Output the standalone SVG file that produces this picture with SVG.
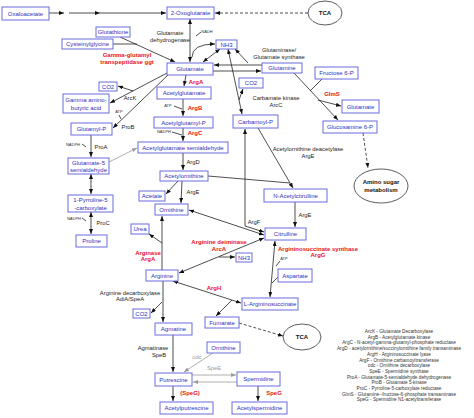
<svg xmlns="http://www.w3.org/2000/svg" width="474" height="418" viewBox="0 0 474 418">
<style>
.b{fill:#fff;stroke:#6b6be0;stroke-width:1}
.e{fill:#fff;stroke:#333;stroke-width:0.8}
text{font-family:"Liberation Sans",Arial,sans-serif;text-anchor:middle}
.t{font-size:6px;fill:#3030c0}
.l{font-size:5.8px;fill:#222}
.r{font-size:6px;fill:#e8141b;font-weight:bold}
.s{font-size:4px;fill:#333}
.k{font-size:6px;fill:#111;font-weight:bold}
.gy{font-size:5.8px;fill:#999}
.lg{font-size:4.7px;fill:#333}
.c line,.c path,.c polyline{stroke:#222;stroke-width:0.8;fill:none}
.c .g{stroke:#999}
.c .d{stroke-dasharray:3,2}
</style>
<defs>
<marker id="a" viewBox="0 0 10 8" refX="10" refY="4" markerWidth="5" markerHeight="4" markerUnits="userSpaceOnUse" orient="auto-start-reverse"><path d="M0,0L10,4L0,8z" fill="#111"/></marker>
<marker id="ag" viewBox="0 0 10 8" refX="10" refY="4" markerWidth="5" markerHeight="4" markerUnits="userSpaceOnUse" orient="auto-start-reverse"><path d="M0,0L10,4L0,8z" fill="#999"/></marker>
</defs>
<rect width="474" height="418" fill="#fff"/>

<g id="connectors" class="c">
<line x1="49" y1="13" x2="64" y2="13" marker-end="url(#a)"/>
<line x1="69" y1="13" x2="100" y2="13" marker-end="url(#a)"/>
<line x1="100" y1="13" x2="166" y2="13" marker-end="url(#a)"/>
<line class="d" x1="308" y1="13" x2="215" y2="13" marker-end="url(#a)"/>
<line x1="190" y1="19" x2="190" y2="62" marker-start="url(#a)" marker-end="url(#a)"/>
<path d="M196,36 L201,32"/>
<path d="M192,57 Q192,44 215,44" marker-end="url(#a)"/>
<line x1="203" y1="62" x2="220" y2="49" marker-start="url(#a)" marker-end="url(#a)"/>
<line x1="248" y1="63" x2="235" y2="49" marker-end="url(#a)"/>
<line x1="262" y1="65" x2="214" y2="65" marker-end="url(#a)"/>
<line x1="213" y1="71" x2="261" y2="71" marker-end="url(#a)"/>
<line x1="120" y1="37" x2="175" y2="62" marker-end="url(#a)"/>
<line x1="113" y1="44" x2="137" y2="44"/>
<line x1="167" y1="73" x2="110" y2="103" marker-end="url(#a)"/>
<line x1="133" y1="91" x2="118" y2="86" marker-end="url(#a)"/>
<line x1="168" y1="75" x2="113" y2="128" marker-end="url(#a)"/>
<path d="M119,115 L121,119"/>
<line x1="186" y1="75" x2="184" y2="86" marker-end="url(#a)"/>
<line x1="183" y1="99" x2="183" y2="116" marker-end="url(#a)"/>
<path d="M174,106 L182,109"/>
<line x1="183" y1="128" x2="183" y2="141" marker-end="url(#a)"/>
<path d="M172,132 L182,135"/>
<line x1="183" y1="153" x2="183" y2="170" marker-end="url(#a)"/>
<line x1="178" y1="181" x2="166" y2="194" marker-end="url(#a)"/>
<line x1="182" y1="181" x2="181" y2="203" marker-end="url(#a)"/>
<line x1="208" y1="176" x2="290" y2="183"/>
<line x1="258" y1="128" x2="293" y2="188" marker-end="url(#a)"/>
<line x1="295" y1="202" x2="295" y2="227" marker-end="url(#a)"/>
<line x1="245" y1="226" x2="245" y2="129" marker-end="url(#a)"/>
<line x1="245" y1="226" x2="264" y2="232" marker-end="url(#a)"/>
<line x1="189" y1="210" x2="264" y2="235" marker-start="url(#a)" marker-end="url(#a)"/>
<line x1="179" y1="273" x2="264" y2="238" marker-start="url(#a)" marker-end="url(#a)"/>
<line x1="219" y1="257" x2="235" y2="257" marker-end="url(#a)"/>
<line x1="162" y1="270" x2="162" y2="216" marker-end="url(#a)"/>
<line x1="162" y1="243" x2="149" y2="234" marker-end="url(#a)"/>
<line x1="163" y1="281" x2="163" y2="322" marker-end="url(#a)"/>
<line x1="162" y1="302" x2="151" y2="313" marker-end="url(#a)"/>
<line x1="173" y1="281" x2="241" y2="303" marker-start="url(#a)" marker-end="url(#a)"/>
<line x1="232" y1="300" x2="216" y2="316" marker-end="url(#a)"/>
<line x1="275" y1="241" x2="270" y2="297" marker-start="url(#a)" marker-end="url(#a)"/>
<line x1="278" y1="277" x2="272" y2="283"/>
<path d="M280,261 L276,266"/>
<line class="d" x1="239" y1="323" x2="283" y2="336" marker-end="url(#a)"/>
<line x1="173" y1="335" x2="173" y2="372" marker-end="url(#a)"/>
<line class="g" x1="213" y1="353" x2="184" y2="372" marker-end="url(#ag)"/>
<line class="g" x1="192" y1="375" x2="236" y2="375" marker-end="url(#ag)"/>
<line class="g" x1="237" y1="382" x2="193" y2="382" marker-end="url(#ag)"/>
<line x1="173" y1="386" x2="173" y2="401" marker-end="url(#a)"/>
<line x1="258" y1="386" x2="258" y2="401" marker-end="url(#a)"/>
<line x1="91" y1="135" x2="91" y2="157" marker-end="url(#a)"/>
<path d="M82,144 L86,147"/>
<line x1="91" y1="174" x2="91" y2="194" marker-start="url(#a)" marker-end="url(#a)"/>
<line x1="91" y1="212" x2="91" y2="234" marker-start="url(#a)" marker-end="url(#a)"/>
<path d="M82,218 L86,221"/>
<line class="g" x1="109" y1="162" x2="137" y2="148" marker-end="url(#ag)"/>
<line x1="228" y1="49" x2="242" y2="114" marker-start="url(#a)" marker-end="url(#a)"/>
<line x1="239" y1="100" x2="243" y2="89" marker-end="url(#a)"/>
<line x1="294" y1="73" x2="338" y2="120" marker-end="url(#a)"/>
<line x1="322" y1="79" x2="310" y2="91"/>
<line x1="318" y1="100" x2="341" y2="106" marker-end="url(#a)"/>
<line class="d" x1="363" y1="133" x2="368" y2="168" marker-end="url(#a)"/>
</g>

<g id="oxaloacetate"><rect class="b" x="2" y="7" width="47" height="13"/><text class="t" x="25.5" y="15.5">Oxaloacetate</text></g>
<g id="oxoglutarate"><rect class="b" x="167" y="7" width="47" height="12"/><text class="t" x="190.5" y="15">2-Oxoglutarate</text></g>
<g id="tca1"><ellipse class="e" cx="325" cy="13" rx="17" ry="12"/><text class="k" x="325" y="15">TCA</text></g>
<g id="glutathione"><rect class="b" x="96" y="27" width="34" height="10"/><text class="t" x="113" y="34">Glutathione</text></g>
<g id="cysteinylglycine"><rect class="b" x="62" y="39" width="51" height="10"/><text class="t" x="87.5" y="46">Cysteinylglycine</text></g>
<g id="nh3a"><rect class="b" x="216" y="40" width="21" height="9"/><text class="t" x="226.5" y="46.5">NH3</text></g>
<g id="glutamate"><rect class="b" x="167" y="63" width="46" height="12"/><text class="t" x="190" y="71">Glutamate</text></g>
<g id="glutamine"><rect class="b" x="262" y="63" width="40" height="10"/><text class="t" x="282" y="70">Glutamine</text></g>
<g id="fructose6p"><rect class="b" x="315" y="67" width="43" height="12"/><text class="t" x="336.5" y="75">Fructose 6-P</text></g>
<g id="co2a"><rect class="b" x="99" y="82" width="18" height="9"/><text class="t" x="108" y="88.5">CO2</text></g>
<g id="co2b"><rect class="b" x="239" y="78" width="24" height="10"/><text class="t" x="251" y="85">CO2</text></g>
<g id="gaba"><rect class="b" x="63" y="94" width="46" height="19"/><text class="t" x="86" y="102">Gamma amino-</text><text class="t" x="86" y="109.5">butyric acid</text></g>
<g id="acetylglutamate"><rect class="b" x="157" y="87" width="54" height="12"/><text class="t" x="184" y="95">Acetylglutamate</text></g>
<g id="glutamate2"><rect class="b" x="342" y="100" width="37" height="13"/><text class="t" x="360.5" y="108.5">Glutamate</text></g>
<g id="glutamylp"><rect class="b" x="71" y="123" width="41" height="12"/><text class="t" x="91.5" y="131">Glutamyl-P</text></g>
<g id="acetylglutamylp"><rect class="b" x="154" y="117" width="59" height="11"/><text class="t" x="183.5" y="124.5">Acetylglutamyl-P</text></g>
<g id="carbamoylp"><rect class="b" x="233" y="115" width="45" height="13"/><text class="t" x="255.5" y="123.5">Carbamoyl-P</text></g>
<g id="glucosamine6p"><rect class="b" x="323" y="121" width="54" height="12"/><text class="t" x="350" y="129">Glucosamine 6-P</text></g>
<g id="gsa"><rect class="b" x="68" y="158" width="41" height="16"/><text class="t" x="88.5" y="164.5">Glutamate-5</text><text class="t" x="88.5" y="171.5">semialdehyde</text></g>
<g id="ags"><rect class="b" x="138" y="142" width="90" height="11"/><text class="t" x="183" y="149.5">Acetylglutamate semialdehyde</text></g>
<g id="acetylornithine"><rect class="b" x="160" y="171" width="48" height="10"/><text class="t" x="184" y="178">Acetylornithine</text></g>
<g id="aminosugar"><ellipse class="e" cx="381" cy="186" rx="27" ry="17"/><text class="k" x="381" y="184">Amino sugar</text><text class="k" x="381" y="192">metabolism</text></g>
<g id="acetate"><rect class="b" x="139" y="191" width="26" height="10"/><text class="t" x="152" y="198">Acetate</text></g>
<g id="nacetylcitrulline"><rect class="b" x="264" y="189" width="63" height="13"/><text class="t" x="295.5" y="197.5">N-Acetylcitrulline</text></g>
<g id="p5c"><rect class="b" x="68" y="195" width="45" height="17"/><text class="t" x="90.5" y="202">1-Pyrroline-5</text><text class="t" x="90.5" y="209.5">-carboxylate</text></g>
<g id="ornithine"><rect class="b" x="155" y="204" width="33" height="11"/><text class="t" x="171.5" y="211.5">Ornithine</text></g>
<g id="urea"><rect class="b" x="131" y="224" width="18" height="10"/><text class="t" x="140" y="231">Urea</text></g>
<g id="citrulline"><rect class="b" x="265" y="228" width="41" height="12"/><text class="t" x="285.5" y="236">Citrulline</text></g>
<g id="proline"><rect class="b" x="76" y="235" width="31" height="12"/><text class="t" x="91.5" y="243">Proline</text></g>
<g id="nh3b"><rect class="b" x="236" y="253" width="16" height="9"/><text class="t" x="244" y="259.5">NH3</text></g>
<g id="arginine"><rect class="b" x="146" y="270" width="32" height="11"/><text class="t" x="162" y="277.5">Arginine</text></g>
<g id="aspartate"><rect class="b" x="278" y="269" width="34" height="13"/><text class="t" x="295" y="277.5">Aspartate</text></g>
<g id="largininosuccinate"><rect class="b" x="242" y="298" width="56" height="12"/><text class="t" x="270" y="306">L-Argininosuccinate</text></g>
<g id="co2c"><rect class="b" x="133" y="309" width="17" height="9"/><text class="t" x="141.5" y="315.5">CO2</text></g>
<g id="fumarate"><rect class="b" x="205" y="317" width="34" height="11"/><text class="t" x="222" y="324.5">Fumarate</text></g>
<g id="agmatine"><rect class="b" x="155" y="323" width="37" height="12"/><text class="t" x="173.5" y="331">Agmatine</text></g>
<g id="tca2"><ellipse class="e" cx="302" cy="337" rx="19" ry="13"/><text class="k" x="302" y="339">TCA</text></g>
<g id="ornithine2"><rect class="b" x="207" y="342" width="33" height="11"/><text class="t" x="223.5" y="349.5">Ornithine</text></g>
<g id="putrescine"><rect class="b" x="155" y="373" width="37" height="13"/><text class="t" x="173.5" y="381.5">Putrescine</text></g>
<g id="spermidine"><rect class="b" x="237" y="372" width="43" height="14"/><text class="t" x="258.5" y="381">Spermidine</text></g>
<g id="acetylputrescine"><rect class="b" x="160" y="402" width="53" height="12"/><text class="t" x="186.5" y="410">Acetylputrescine</text></g>
<g id="acetylspermidine"><rect class="b" x="232" y="402" width="55" height="12"/><text class="t" x="259.5" y="410">Acetylspermidine</text></g>

<g id="labels">
<text class="l" x="170" y="35">Glutamate</text><text class="l" x="170" y="42">dehydrogenase</text>
<text class="s" x="207" y="33">NADH</text>
<text class="r" x="127" y="57">Gamma-glutamyl</text><text class="r" x="127" y="64">transpeptidase ggt</text>
<text class="l" x="279" y="52">Glutaminase/</text><text class="l" x="279" y="59">Glutamate synthase</text>
<text class="r" x="196" y="84">ArgA</text>
<text class="l" x="130" y="100">ArcK</text>
<text class="s" x="119" y="113">ATP</text>
<text class="l" x="128" y="129">ProB</text>
<text class="s" x="168" y="107">ATP</text>
<text class="r" x="195" y="110">ArgB</text>
<text class="s" x="164" y="133">NADPH</text>
<text class="r" x="195" y="135">ArgC</text>
<text class="l" x="276" y="100">Carbamate kinase</text><text class="l" x="276" y="107">ArcC</text>
<text class="r" x="332" y="96">GlmS</text>
<text class="s" x="73" y="146">NADPH</text><text class="l" x="101" y="149">ProA</text>
<text class="l" x="193" y="164">ArgD</text>
<text class="l" x="308" y="151">Acetylornithine deacetylase</text><text class="l" x="308" y="158">ArgE</text>
<text class="l" x="193" y="194">ArgE</text>
<text class="l" x="305" y="217">ArgE</text>
<text class="s" x="74" y="220">NADPH</text><text class="l" x="103" y="225">ProC</text>
<text class="l" x="254" y="224">ArgF</text>
<text class="r" x="219" y="244">Arginine deiminase</text><text class="r" x="219" y="251">ArcA</text>
<text class="r" x="148" y="255">Arginase</text><text class="r" x="148" y="261">ArgA</text>
<text class="r" x="318" y="251">Argininosuccinate synthase</text><text class="r" x="318" y="257">ArgG</text>
<text class="s" x="284" y="260">ATP</text>
<text class="r" x="214" y="290">ArgH</text>
<text class="l" x="130" y="295">Arginine decarboxylase</text><text class="l" x="130" y="301">AdiA/SpeA</text>
<text class="l" x="153" y="350">Agmatinase</text><text class="l" x="159" y="357">SpeB</text>
<text class="gy" x="197" y="359">odc</text>
<text class="gy" x="214" y="370">SpeE</text>
<text class="r" x="190" y="395">(SpeG)</text>
<text class="r" x="274" y="395">SpeG</text>
</g>

<g id="legend">
<text class="lg" x="399" y="333">ArcK - Glutamate Decarboxylase</text>
<text class="lg" x="399" y="338.7">ArgB - Acetylglutamate kinase</text>
<text class="lg" x="399" y="344.4">ArgC - N-acetyl-gamma-glutamyl-phosphate reductase</text>
<text class="lg" x="399" y="350.1">ArgD - acetylornithine/succinylornithine family transaminase</text>
<text class="lg" x="399" y="355.8">ArgH - Argininosuccinate lyase</text>
<text class="lg" x="399" y="361.5">ArgF - Ornithine carbamoyltransferase</text>
<text class="lg" x="399" y="367.2">odc - Ornithine decarboxylase</text>
<text class="lg" x="399" y="372.9">SpeE - Spermidine synthase</text>
<text class="lg" x="399" y="378.6">ProA - Glutamate-5-semialdehyde dehydrogenase</text>
<text class="lg" x="399" y="384.3">ProB - Glutamate 5-kinase</text>
<text class="lg" x="399" y="390">ProC - Pyrroline-5-carboxylate reductase</text>
<text class="lg" x="399" y="395.7">GlmS - Glutamine--fructose-6-phosphate transaminase</text>
<text class="lg" x="399" y="401.4">SpeG - Spermidine N1-acetyltransferase</text>
</g>
</svg>
